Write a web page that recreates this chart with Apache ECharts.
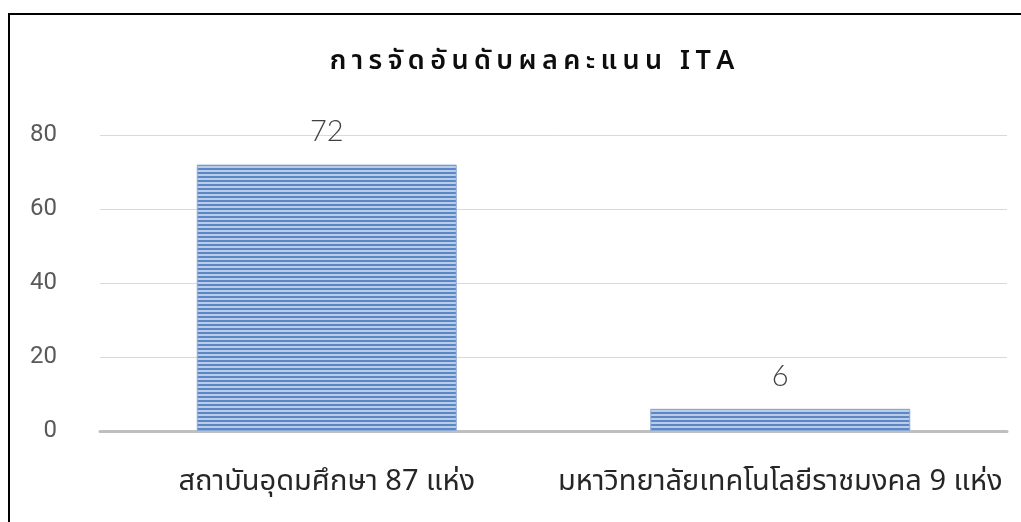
<!DOCTYPE html>
<html>
<head>
<meta charset="utf-8">
<script src="https://cdn.jsdelivr.net/npm/echarts@6/dist/echarts.min.js"></script>
<style>
html, body { margin: 0; padding: 0; background: #fff; }
#chart { width: 1021px; height: 522px; }
</style>
</head>
<body>
<div id="chart"></div>
<script>
// ข้อมูล
const categories = ['สถาบันอุดมศึกษา 87 แห่ง', 'มหาวิทยาลัยเทคโนโลยีราชมงคล 9 แห่ง']
const scores = [72, 6]
const yTicks = [0, 20, 40, 60, 80]
// ชื่อแผนภูมิ แยกเป็นกลุ่มอักษร เพื่อเว้นระยะระหว่างตัว
const titleParts = ['ก', 'า', 'ร', 'จั', 'ด', 'อั', 'น', 'ดั', 'บ', 'ผ', 'ล', 'ค', 'ะ', 'แ', 'น', 'น', ' ', 'I', 'T', 'A']

const THAI_FONT = '"Noto Sans Thai", "Noto Sans", "DejaVu Sans", sans-serif'

// ลายเส้นแนวนอนของแท่ง
function makeStripe() {
	const c = document.createElement('canvas')
	c.width = 8
	c.height = 4
	const ctx = c.getContext('2d')
	ctx.fillStyle = '#b9cce8'
	ctx.fillRect(0, 0, 8, 4)
	ctx.fillStyle = '#5b87c6'
	ctx.fillRect(0, 0, 8, 2)
	return c
}

const myChart = echarts.init(document.getElementById('chart'))
const option = {
	backgroundColor: '#fff',
	animation: false,
	title: {
		text: titleParts.join('\u2009'),
		left: 527,
		textAlign: 'center',
		top: 45,
		textStyle: {
			fontFamily: THAI_FONT,
			fontSize: 27,
			fontWeight: 600,
			color: '#0d0d0d',
		},
	},
	graphic: [
		{
			type: 'rect',
			shape: { x: 9, y: 14, width: 1100, height: 600 },
			style: { fill: 'none', stroke: '#000', lineWidth: 2 },
			silent: true,
		},
	],
	grid: {
		left: 100,
		right: 14,
		top: 135,
		bottom: 91,
	},
	xAxis: {
		type: 'category',
		data: categories,
		axisLine: { lineStyle: { color: '#bfbfbf', width: 3 } },
		axisTick: { show: false },
		axisLabel: {
			margin: 39,
			fontFamily: THAI_FONT,
			fontSize: 29,
			color: '#262626',
			interval: 0,
		},
	},
	yAxis: {
		type: 'value',
		min: yTicks[0],
		max: yTicks[yTicks.length - 1],
		interval: 20,
		axisLine: { show: false },
		axisTick: { show: false },
		splitLine: { lineStyle: { color: '#d9d9d9', width: 1 } },
		axisLabel: {
			margin: 43,
			fontFamily: 'Roboto, "Liberation Sans", sans-serif',
			fontSize: 24,
			color: '#595959',
		},
	},
	series: [
		{
			type: 'bar',
			data: scores,
			barWidth: 260,
			itemStyle: {
				color: { image: makeStripe(), repeat: 'repeat' },
				borderColor: '#8eaad6',
				borderWidth: 1,
			},
			label: {
				show: true,
				position: 'top',
				distance: 18,
				fontFamily: 'Lato, "Open Sans", sans-serif',
				fontWeight: 300,
				fontSize: 29,
				color: '#404040',
			},
		},
	],
}
myChart.setOption(option)
</script>
</body>
</html>
